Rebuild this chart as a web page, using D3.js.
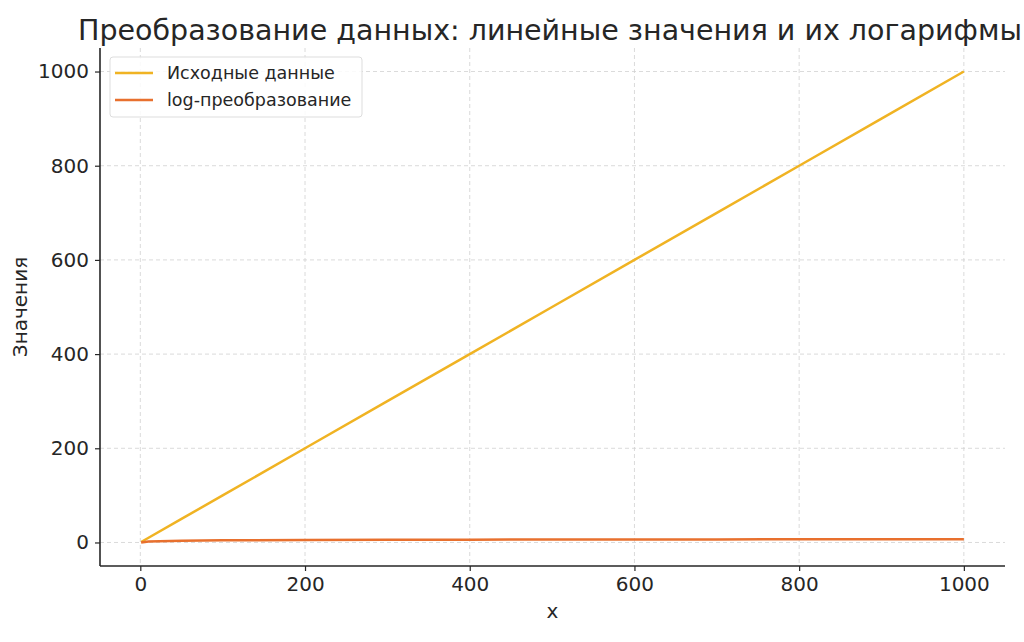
<!DOCTYPE html>
<html><head><meta charset="utf-8">
<script src="https://cdn.jsdelivr.net/npm/d3@7"></script>
<style>body{margin:0;background:#fff;overflow:hidden}svg{display:block}text{font-family:"DejaVu Sans",sans-serif;fill:#262626}</style>
</head><body><svg id="c" width="1024" height="642"></svg>
<script>
const titleText = "Преобразование данных: линейные значения и их логарифмы";
const xLabel = "x";
const yLabel = "Значения";
const seriesNames = ["Исходные данные", "log-преобразование"];
const seriesColors = ["#F0B323", "#E8702E"];
const xValues = [1, 10, 50, 100, 200, 300, 400, 500, 600, 700, 800, 900, 1000];
const linearValues = [1, 10, 50, 100, 200, 300, 400, 500, 600, 700, 800, 900, 1000];
const logValues = [0, 2.30, 3.91, 4.61, 5.30, 5.70, 5.99, 6.21, 6.40, 6.55, 6.68, 6.80, 6.91];
const xTicks = [0, 200, 400, 600, 800, 1000];
const yTicks = [0, 200, 400, 600, 800, 1000];

const svg = d3.select("#c");
const L = 100, R = 1005, T = 48, B = 566;
const x = d3.scaleLinear().domain([-48.95, 1049.95]).range([L, R]);
const y = d3.scaleLinear().domain([-49.95, 1049.95]).range([B, T]);

// grid
const g = svg.append("g");
g.selectAll("line.gx").data(xTicks).join("line")
  .attr("x1", d => x(d)).attr("x2", d => x(d)).attr("y1", T).attr("y2", B)
  .attr("stroke", "#d0d0d0").attr("stroke-width", 0.8).attr("stroke-dasharray", "4,3");
g.selectAll("line.gy").data(yTicks).join("line")
  .attr("x1", L).attr("x2", R).attr("y1", d => y(d)).attr("y2", d => y(d))
  .attr("stroke", "#d0d0d0").attr("stroke-width", 0.8).attr("stroke-dasharray", "4,3");

// lines
const series = [linearValues, logValues];
const line = d3.line().x((d, i) => x(xValues[i])).y(d => y(d));
series.forEach((s, k) => {
  svg.append("path").datum(s).attr("d", line).attr("fill", "none")
    .attr("stroke", seriesColors[k]).attr("stroke-width", 2.5);
});

// axes
const fmt = d3.format("d");
const xa = svg.append("g").attr("transform", `translate(0,${B})`)
  .call(d3.axisBottom(x).tickValues(xTicks).tickFormat(fmt).tickSize(5).tickPadding(6).tickSizeOuter(0));
const ya = svg.append("g").attr("transform", `translate(${L},0)`)
  .call(d3.axisLeft(y).tickValues(yTicks).tickFormat(fmt).tickSize(5).tickPadding(6).tickSizeOuter(0));
[xa, ya].forEach(a => {
  a.select(".domain").attr("stroke", "#262626").attr("stroke-width", 1.6);
  a.selectAll(".tick line").attr("stroke", "#262626").attr("stroke-width", 1.2);
  a.selectAll(".tick text").attr("font-size", 20).attr("fill", "#262626")
    .attr("font-family", "DejaVu Sans, sans-serif");
});
ya.select(".domain").attr("d", `M0,${B}V${T}`);
xa.select(".domain").attr("d", `M${L},0H${R}`);

// labels
svg.append("text").attr("x", (L + R) / 2).attr("y", 618).attr("text-anchor", "middle")
  .attr("font-size", 20).text(xLabel);
svg.append("text").attr("transform", `translate(27,${(T + B) / 2}) rotate(-90)`)
  .attr("text-anchor", "middle").attr("font-size", 20).text(yLabel);
svg.append("text").attr("x", 78).attr("y", 40).attr("text-anchor", "start")
  .attr("font-size", 28.5).attr("fill", "#333").text(titleText);

// legend
const lg = svg.append("g");
lg.append("rect").attr("x", 110).attr("y", 57).attr("width", 252).attr("height", 60)
  .attr("rx", 3).attr("fill", "#fff").attr("fill-opacity", 0.85).attr("stroke", "#ddd");
seriesNames.forEach((n, i) => {
  const yy = 73 + i * 27;
  lg.append("line").attr("x1", 115).attr("x2", 153).attr("y1", yy).attr("y2", yy)
    .attr("stroke", seriesColors[i]).attr("stroke-width", 2.5);
  lg.append("text").attr("x", 167).attr("y", yy + 6).attr("font-size", 17.5).text(n);
});
</script></body></html>
